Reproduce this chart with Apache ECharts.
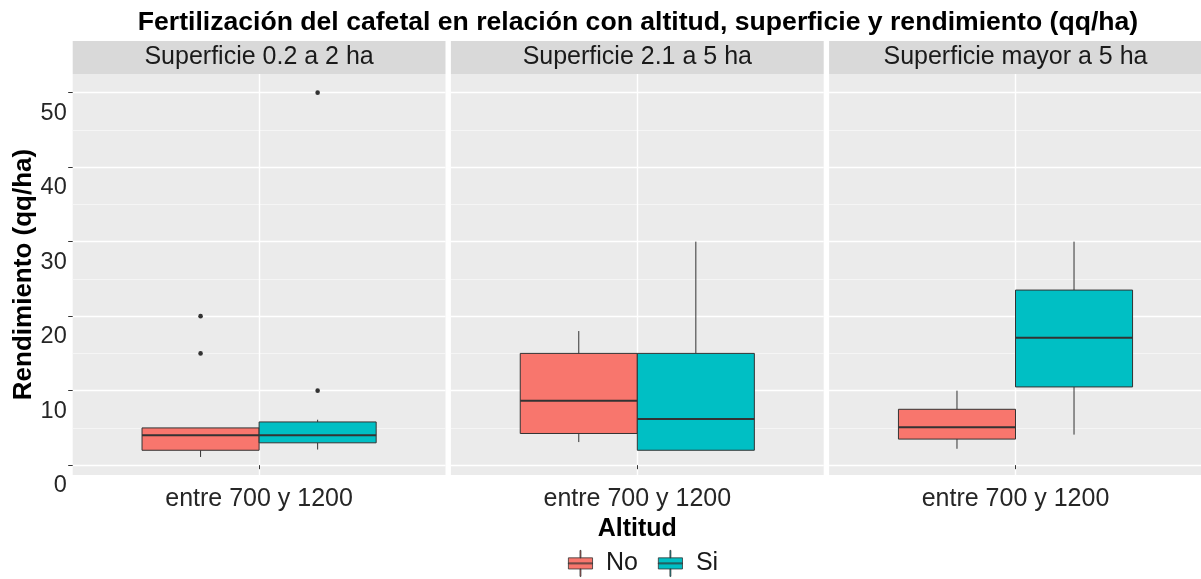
<!DOCTYPE html>
<html>
<head>
<meta charset="utf-8">
<script src="https://cdn.jsdelivr.net/npm/echarts@6/dist/echarts.min.js"></script>
<style>
  html, body { margin: 0; padding: 0; background: #ffffff; }
  #chart { width: 1201px; height: 579px; }
</style>
</head>
<body>
<div id="chart"></div>
<script>
// Facets (farm size) and the single altitude class
const panels = ['Superficie 0.2 a 2 ha', 'Superficie 2.1 a 5 ha', 'Superficie mayor a 5 ha'];
const altitud = ['entre 700 y 1200'];
const groups = ['No', 'Si'];

// Box statistics per facet: [min whisker, Q1, median, Q3, max whisker]
const statsNo = [
  [1.1, 2.0, 4.0, 5.0, 5.0],
  [3.1, 4.25, 8.65, 15.0, 18.0],
  [2.2, 3.5, 5.1, 7.5, 10.0]
];
const statsSi = [
  [2.1, 3.0, 4.0, 5.8, 6.1],
  [2.0, 2.0, 6.2, 15.0, 30.0],
  [4.1, 10.5, 17.1, 23.5, 30.0]
];

// Outlying yields per facet
const outliersNo = [[15, 20], [], []];
const outliersSi = [[10, 50], [], []];

// Y axis ticks
const yTicks = [0, 10, 20, 30, 40, 50];
const yMinor = [5, 15, 25, 35, 45];

const FONT = '"Liberation Sans", Arial, Helvetica, sans-serif';
const COLORS = { No: '#F8766D', Si: '#00BFC4' };
const Y_MIN = -1.32, Y_MAX = 52.5;
const PANEL_LEFT = 72.7, PANEL_W = 372.8, PANEL_GAP = 5.4;
const PANEL_TOP = 74, PANEL_BOTTOM = 104;
const BOX_FRAC = 0.314;   // width of each dodged box, as a share of the facet band

// ggplot-like box: no whisker caps, thicker median
function boxRenderer(outliers, side, color) {
  return function (params, api) {
    const x = api.value(0);
    const band = api.size([1, 0])[0];
    const w = band * BOX_FRAC;
    const cx = api.coord([x, 0])[0] + side * w / 2;
    const py = v => api.coord([x, v])[1];
    const lo = api.value(1), q1 = api.value(2), med = api.value(3), q3 = api.value(4), hi = api.value(5);
    const left = cx - w / 2;
    const ink = '#333333';
    const children = [
      { type: 'line', shape: { x1: cx, y1: py(q3), x2: cx, y2: py(hi) }, style: { stroke: ink, lineWidth: 1 } },
      { type: 'line', shape: { x1: cx, y1: py(q1), x2: cx, y2: py(lo) }, style: { stroke: ink, lineWidth: 1 } },
      { type: 'rect', shape: { x: left, y: py(q3), width: w, height: py(q1) - py(q3) },
        style: { fill: color, stroke: ink, lineWidth: 1 } },
      { type: 'line', shape: { x1: left, y1: py(med), x2: left + w, y2: py(med) }, style: { stroke: ink, lineWidth: 2 } }
    ];
    outliers.forEach(v => {
      const pt = api.coord([x, v]);
      children.push({ type: 'circle', shape: { cx: cx, cy: pt[1], r: 2.3 }, style: { fill: ink } });
    });
    return { type: 'group', children: children };
  };
}

const grid = [], xAxis = [], yAxis = [], series = [];

panels.forEach((label, p) => {
  grid.push({
    left: PANEL_LEFT + p * (PANEL_W + PANEL_GAP), top: PANEL_TOP, width: PANEL_W, bottom: PANEL_BOTTOM,
    show: true, backgroundColor: '#EBEBEB', borderWidth: 0, outerBoundsMode: 'none'
  });

  const xBase = xAxis.length;
  // altitude class along the bottom
  xAxis.push({
    type: 'category', gridIndex: p, position: 'bottom', data: altitud, boundaryGap: true,
    axisLine: { show: false },
    axisTick: { show: true, alignWithLabel: true, length: 4, lineStyle: { color: '#333333', width: 1 } },
    axisLabel: { fontFamily: FONT, fontSize: 25, color: '#262626', margin: 12 },
    splitLine: { show: false },
    name: p === 1 ? 'Altitud' : '', nameLocation: 'middle', nameGap: 40,
    nameTextStyle: { fontFamily: FONT, fontSize: 25, fontWeight: 'bold', color: '#000000' }
  });
  // facet strip on top
  xAxis.push({
    type: 'category', gridIndex: p, position: 'top', data: [label],
    axisLine: { show: false }, axisTick: { show: false }, splitLine: { show: false },
    axisLabel: {
      margin: 0, fontFamily: FONT, fontSize: 25, color: '#1A1A1A',
      backgroundColor: '#D9D9D9', width: PANEL_W, height: 33, lineHeight: 33,
      align: 'center', verticalAlign: 'bottom', padding: 0
    }
  });
  // vertical major gridline at the category centre
  xAxis.push({
    type: 'value', gridIndex: p, position: 'bottom', min: 0, max: 2, interval: 1,
    axisLine: { show: false }, axisTick: { show: false }, axisLabel: { show: false },
    splitLine: { show: true, showMinLine: false, showMaxLine: false, lineStyle: { color: '#FFFFFF', width: 1.4 } }
  });

  const yBase = yAxis.length;
  yAxis.push({
    type: 'value', gridIndex: p, position: 'left', min: Y_MIN, max: Y_MAX,
    axisLine: { show: false },
    axisTick: { show: p === 0, customValues: yTicks, length: 4.5, lineStyle: { color: '#333333', width: 1 } },
    axisLabel: {
      show: p === 0, customValues: yTicks, fontFamily: FONT, fontSize: 23.5, color: '#262626',
      margin: 6, showMinLabel: true, showMaxLabel: true,
      // labels hang below their tick
      verticalAlign: 'top', lineHeight: 41
    },
    splitLine: { show: true, lineStyle: { color: '#FFFFFF', width: 1.4 } },
    name: p === 0 ? 'Rendimiento (qq/ha)' : '', nameLocation: 'middle', nameGap: 34,
    nameTextStyle: { fontFamily: FONT, fontSize: 26, fontWeight: 'bold', color: '#000000' }
  });
  yAxis.push({
    type: 'value', gridIndex: p, position: 'left', min: Y_MIN, max: Y_MAX,
    axisLine: { show: false },
    axisTick: { show: false, customValues: yMinor },
    axisLabel: { show: false },
    splitLine: { show: true, lineStyle: { color: '#F7F7F7', width: 0.8 } }
  });

  [[groups[0], statsNo[p], outliersNo[p], -1], [groups[1], statsSi[p], outliersSi[p], 1]].forEach(([name, st, outs, side]) => {
    series.push({
      type: 'custom', name: name, xAxisIndex: xBase, yAxisIndex: yBase,
      itemStyle: { color: COLORS[name] },
      renderItem: boxRenderer(outs, side, COLORS[name]),
      data: [[0].concat(st)],
      z: 3
    });
  });
});

const chart = echarts.init(document.getElementById('chart'), null, { renderer: 'canvas' });
chart.setOption({
  animation: false,
  backgroundColor: '#FFFFFF',
  title: {
    text: 'Fertilización del cafetal en relación con altitud, superficie y rendimiento (qq/ha)',
    left: 638, top: 9, padding: 0, textAlign: 'center',
    textStyle: { fontFamily: FONT, fontSize: 26.6, fontWeight: 'bold', color: '#000000' }
  },
  legend: {
    data: groups.map(g => ({
      name: g,
      icon: 'path://M0,8H26V20H0Z M12.5,0H13.5V8H12.5Z M12.5,20H13.5V28H12.5Z M0,13.5H26V14.5H0Z'
    })),
    left: 568, top: 550, padding: 0, itemWidth: 25, itemHeight: 26, itemGap: 20,
    itemStyle: { borderColor: '#333333', borderWidth: 0.8 },
    textStyle: { fontFamily: FONT, fontSize: 25, color: '#1A1A1A', padding: [0, 0, 0, 8] }
  },
  grid: grid,
  xAxis: xAxis,
  yAxis: yAxis,
  series: series
});
</script>
</body>
</html>
